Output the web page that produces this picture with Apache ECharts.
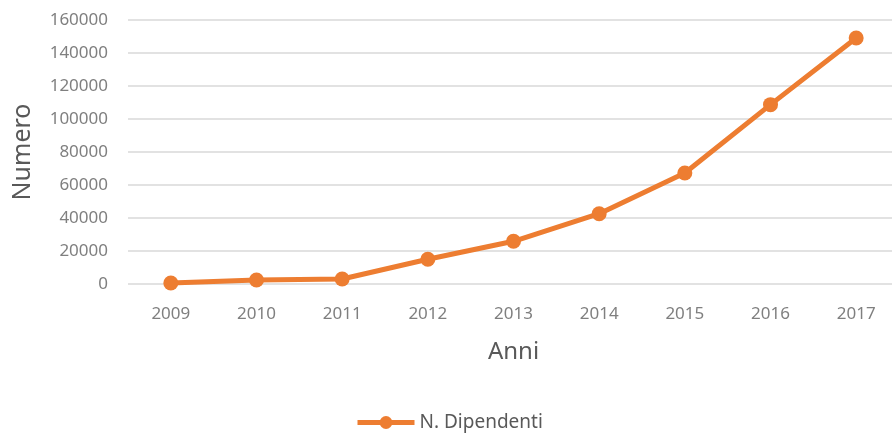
<!DOCTYPE html>
<html>
<head>
<meta charset="utf-8">
<script src="https://cdn.jsdelivr.net/npm/echarts@6/dist/echarts.min.js"></script>
<style>
  html, body { margin: 0; padding: 0; background: #fff; }
  #chart { width: 892px; height: 440px; }
</style>
</head>
<body>
<div id="chart"></div>
<script>
const anni = ["2009", "2010", "2011", "2012", "2013", "2014", "2015", "2016", "2017"];
const dipendenti = [600, 2400, 3000, 15000, 25900, 42600, 67300, 108700, 149100];
const yTicks = { min: 0, max: 160000, interval: 20000 };

const chart = echarts.init(document.getElementById("chart"));
const font = "'Noto Sans', 'Open Sans', sans-serif";

chart.setOption({
  animation: false,
  textStyle: { fontFamily: font },
  grid: { left: 128, top: 20, width: 771, height: 264, outerBoundsMode: "none", containLabel: false },
  legend: {
    bottom: 3,
    left: 350,
    itemWidth: 57,
    itemHeight: 16,
    itemGap: 6,
    data: [{ name: "N. Dipendenti", lineStyle: { width: 5 } }],
    textStyle: { color: "#595959", fontSize: 19, fontFamily: font },
  },
  xAxis: {
    type: "category",
    data: anni,
    boundaryGap: true,
    name: "Anni",
    nameLocation: "middle",
    nameGap: 56,
    nameTextStyle: { color: "#595959", fontSize: 24, fontFamily: font },
    axisLine: { show: false },
    axisTick: { show: false },
    axisLabel: { color: "#7f7f7f", fontSize: 17, margin: 22, fontFamily: font },
  },
  yAxis: {
    type: "value",
    min: yTicks.min,
    max: yTicks.max,
    interval: yTicks.interval,
    name: "Numero",
    nameLocation: "middle",
    nameGap: 93,
    nameTextStyle: { color: "#595959", fontSize: 25, fontFamily: font },
    axisLine: { show: false },
    axisTick: { show: false },
    axisLabel: { color: "#7f7f7f", fontSize: 17, margin: 20, fontFamily: font, formatter: (v) => String(v) },
    splitLine: { lineStyle: { color: "#d9d9d9", width: 1.5 } },
  },
  series: [
    {
      name: "N. Dipendenti",
      type: "line",
      data: dipendenti,
      symbol: "circle",
      symbolSize: 15,
      lineStyle: { color: "#ed7d31", width: 5 },
      itemStyle: { color: "#ed7d31" },
    },
  ],
});
</script>
</body>
</html>
